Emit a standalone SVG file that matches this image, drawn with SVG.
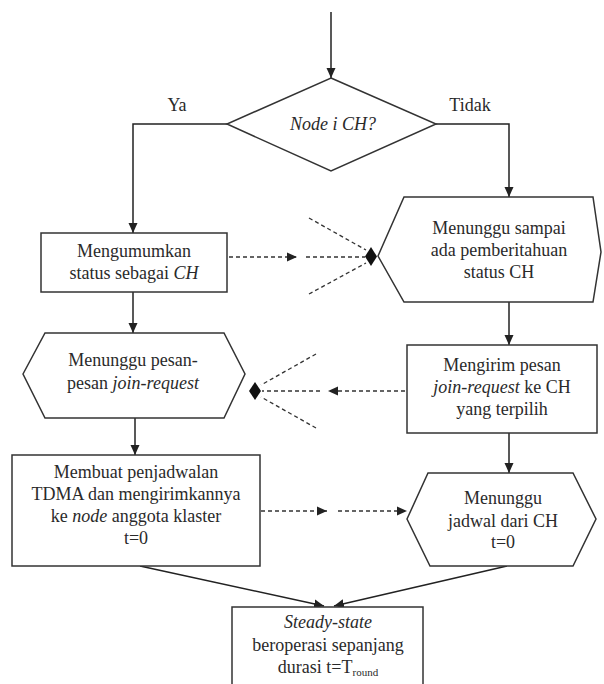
<svg xmlns="http://www.w3.org/2000/svg" width="604" height="684" viewBox="0 0 604 684">
<defs>
<marker id="ah" viewBox="0 0 10 10" refX="10" refY="5" markerWidth="10" markerHeight="10" markerUnits="userSpaceOnUse" orient="auto">
<path d="M0,0.5 L10,5 L0,9.5 Z" fill="#222"/>
</marker>
<style>
.s{fill:#fff;stroke:#333;stroke-width:1.5}
.t{font-family:"Liberation Serif","Times New Roman",serif;font-size:18px;fill:#2a2a2a;text-anchor:middle}
.i{font-style:italic}
.c{fill:none;stroke:#222;stroke-width:1.5}
.d{fill:none;stroke:#333;stroke-width:1.3;stroke-dasharray:4 3}
.m{fill:#111}
</style>
</defs>
<rect width="604" height="684" fill="#fff"/>
<g id="connectors">
<line class="c" x1="331" y1="12" x2="331" y2="78" marker-end="url(#ah)"/>
<polyline class="c" points="227,124 133,124 133,233" marker-end="url(#ah)"/>
<polyline class="c" points="436,124 509,124 509,197" marker-end="url(#ah)"/>
<line class="c" x1="133" y1="292" x2="133" y2="333" marker-end="url(#ah)"/>
<line class="c" x1="509" y1="302" x2="509" y2="345" marker-end="url(#ah)"/>
<line class="c" x1="135" y1="418" x2="135" y2="455" marker-end="url(#ah)"/>
<line class="c" x1="509" y1="433" x2="509" y2="473" marker-end="url(#ah)"/>
<line class="c" x1="140" y1="566" x2="324" y2="606" marker-end="url(#ah)"/>
<line class="c" x1="507" y1="566" x2="334" y2="606" marker-end="url(#ah)"/>
<line class="d" x1="229" y1="257" x2="297" y2="257" marker-end="url(#ah)"/>
<line class="d" x1="306" y1="257" x2="365" y2="257"/>
<line class="d" x1="309" y1="218" x2="366" y2="250"/>
<line class="d" x1="309" y1="294" x2="366" y2="263"/>
<polygon class="m" points="365,256.5 371,247 377,256.5 371,266"/>
<line class="d" x1="405" y1="391" x2="328" y2="391" marker-end="url(#ah)"/>
<line class="d" x1="320" y1="391" x2="262" y2="391"/>
<line class="d" x1="316" y1="354" x2="261" y2="385"/>
<line class="d" x1="316" y1="428" x2="261" y2="397"/>
<polygon class="m" points="249,391 255,382 261,391 255,400"/>
<line class="d" x1="261" y1="511" x2="327" y2="511" marker-end="url(#ah)"/>
<line class="d" x1="338" y1="511" x2="407" y2="511" marker-end="url(#ah)"/>
</g>
<g id="decision">
<polygon class="s" points="331,78 436,124 331,171 227,124"/>
<text class="t i" x="333" y="130">Node i CH?</text>
<text class="t" x="177" y="111">Ya</text>
<text class="t" x="470" y="111">Tidak</text>
</g>
<g id="announce">
<rect class="s" x="41" y="233" width="186" height="59"/>
<text class="t" x="134" y="257">Mengumumkan</text>
<text class="t" x="134" y="279">status sebagai <tspan class="i">CH</tspan></text>
</g>
<g id="wait-status">
<polygon class="s" points="378,256 404,197 593,197 601,252 593,302 404,302"/>
<text class="t" x="499" y="234">Menunggu sampai</text>
<text class="t" x="499" y="256">ada pemberitahuan</text>
<text class="t" x="499" y="278">status CH</text>
</g>
<g id="wait-join">
<polygon class="s" points="23,374 45,333 224,333 245,374 224,418 45,418"/>
<text class="t" x="133" y="366">Menunggu pesan-</text>
<text class="t" x="133" y="389">pesan <tspan class="i">join-request</tspan></text>
</g>
<g id="send-join">
<rect class="s" x="407" y="345" width="190" height="88"/>
<text class="t" x="502" y="371">Mengirim pesan</text>
<text class="t" x="502" y="393"><tspan class="i">join-request</tspan> ke CH</text>
<text class="t" x="502" y="415">yang terpilih</text>
</g>
<g id="schedule">
<rect class="s" x="12" y="455" width="248" height="111"/>
<text class="t" x="136" y="478">Membuat penjadwalan</text>
<text class="t" x="136" y="500">TDMA dan mengirimkannya</text>
<text class="t" x="136" y="522">ke <tspan class="i">node</tspan> anggota klaster</text>
<text class="t" x="136" y="544">t=0</text>
</g>
<g id="wait-schedule">
<polygon class="s" points="407,519 428,473 573,473 596,519 573,566 430,566"/>
<text class="t" x="503" y="504">Menunggu</text>
<text class="t" x="503" y="527">jadwal dari CH</text>
<text class="t" x="503" y="548">t=0</text>
</g>
<g id="steady-state">
<rect class="s" x="232" y="607" width="191" height="90"/>
<text class="t i" x="328" y="628">Steady-state</text>
<text class="t" x="328" y="651">beroperasi sepanjang</text>
<text class="t" x="328" y="673">durasi t=T<tspan font-size="11" dy="3">round</tspan></text>
</g>
</svg>
